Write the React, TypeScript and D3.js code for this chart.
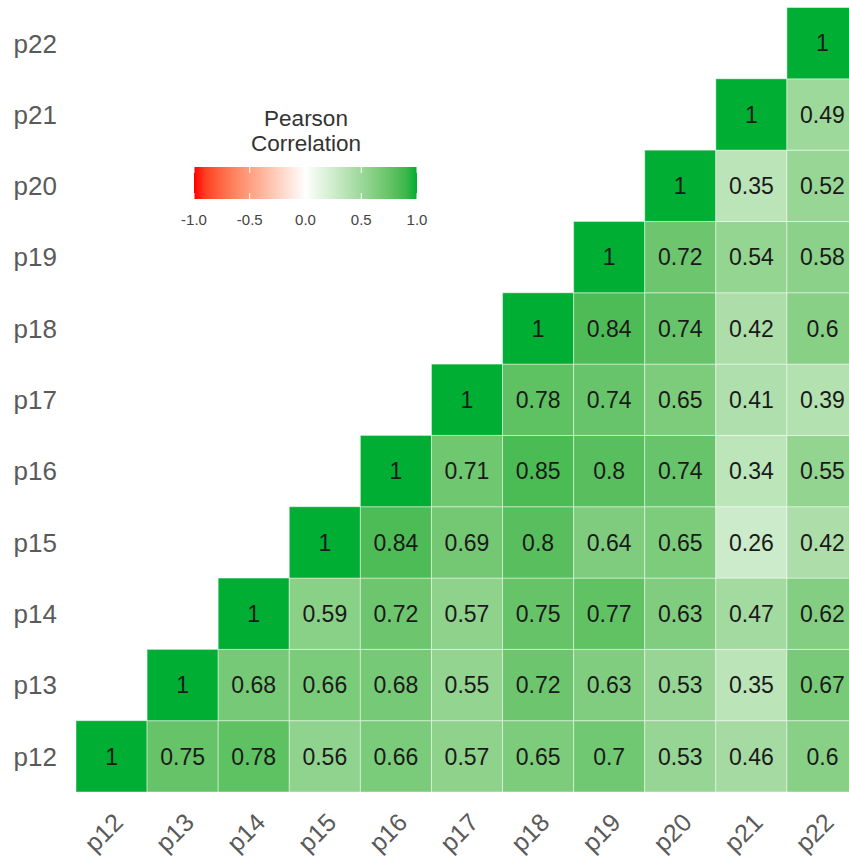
import React from "react";
import * as d3 from "d3";

const vars = ["p12", "p13", "p14", "p15", "p16", "p17", "p18", "p19", "p20", "p21", "p22"];

// upper-triangle correlations; each row starts at its own diagonal
const rowP12 = [1, 0.75, 0.78, 0.56, 0.66, 0.57, 0.65, 0.7, 0.53, 0.46, 0.6];
const rowP13 = [1, 0.68, 0.66, 0.68, 0.55, 0.72, 0.63, 0.53, 0.35, 0.67];
const rowP14 = [1, 0.59, 0.72, 0.57, 0.75, 0.77, 0.63, 0.47, 0.62];
const rowP15 = [1, 0.84, 0.69, 0.8, 0.64, 0.65, 0.26, 0.42];
const rowP16 = [1, 0.71, 0.85, 0.8, 0.74, 0.34, 0.55];
const rowP17 = [1, 0.78, 0.74, 0.65, 0.41, 0.39];
const rowP18 = [1, 0.84, 0.74, 0.42, 0.6];
const rowP19 = [1, 0.72, 0.54, 0.58];
const rowP20 = [1, 0.35, 0.52];
const rowP21 = [1, 0.49];
const rowP22 = [1];
const rows = [rowP12, rowP13, rowP14, rowP15, rowP16, rowP17, rowP18, rowP19, rowP20, rowP21, rowP22];

const legendTicks = [-1, -0.5, 0, 0.5, 1];
const legendTitle = ["Pearson", "Correlation"];

const W = 849;
const H = 862;
const FONT = "'Liberation Sans', Arial, sans-serif";

export default function App() {
  const x = d3.scaleBand<string>().domain(vars).range([76, 858]).padding(0);
  const y = d3.scaleBand<string>().domain([...vars].reverse()).range([7.5, 792]).padding(0);
  const color = d3
    .scaleLinear<string>()
    .domain([-1, 0, 1])
    .range(["#FF0000", "#FFFFFF", "#00AE34"])
    .interpolate(d3.interpolateLab);

  const cells: { r: string; c: string; v: number }[] = [];
  rows.forEach((vals, i) => {
    vals.forEach((v, k) => {
      cells.push({ r: vars[i], c: vars[i + k], v });
    });
  });

  const lx = d3.scaleLinear().domain([-1, 1]).range([194, 417]);
  const gradStops = d3.range(0, 1.0001, 0.05);

  return (
    <svg
      width={W}
      height={H}
      style={{ position: "absolute", left: 0, top: 0, background: "#fff" }}
      fontFamily={FONT}
    >
      <defs>
        <linearGradient id="lg" x1="0" x2="1" y1="0" y2="0">
          {gradStops.map((t) => (
            <stop key={t} offset={t} stopColor={color(-1 + 2 * t)} />
          ))}
        </linearGradient>
      </defs>
      <rect x={0} y={0} width={W} height={H} fill="#fff" />
      {cells.map((d) => (
        <g key={d.r + d.c}>
          <rect
            x={x(d.c)}
            y={y(d.r)}
            width={x.bandwidth()}
            height={y.bandwidth()}
            fill={color(d.v)}
            stroke="#ffffff"
            strokeOpacity={0.45}
            strokeWidth={1}
          />
          <text
            x={(x(d.c) as number) + x.bandwidth() / 2}
            y={(y(d.r) as number) + y.bandwidth() / 2}
            dy="0.36em"
            textAnchor="middle"
            fontSize={23}
            fill="#1a1a1a"
          >
            {String(d.v)}
          </text>
        </g>
      ))}
      {vars.map((v) => (
        <text
          key={"y" + v}
          x={57}
          y={(y(v) as number) + y.bandwidth() / 2}
          dy="0.36em"
          textAnchor="end"
          fontSize={26}
          fill="#5a5a5a"
        >
          {v}
        </text>
      ))}
      {vars.map((v) => {
        const px = (x(v) as number) + x.bandwidth() / 2 + 13;
        const py = 824;
        return (
          <text
            key={"x" + v}
            x={px}
            y={py}
            textAnchor="end"
            fontSize={25}
            fill="#5a5a5a"
            transform={`rotate(-45, ${px}, ${py})`}
          >
            {v}
          </text>
        );
      })}
      {/* legend */}
      {legendTitle.map((t, i) => (
        <text key={t} x={306} y={126 + i * 25} textAnchor="middle" fontSize={22.5} fill="#333">
          {t}
        </text>
      ))}
      <rect x={194} y={167} width={223} height={32} fill="url(#lg)" />
      {legendTicks.map((t) => (
        <g key={"lt" + t}>
          <line x1={lx(t)} x2={lx(t)} y1={167} y2={173} stroke="#fff" strokeWidth={1} />
          <line x1={lx(t)} x2={lx(t)} y1={193} y2={199} stroke="#fff" strokeWidth={1} />
          <text x={lx(t)} y={225} textAnchor="middle" fontSize={15} fill="#444">
            {t.toFixed(1)}
          </text>
        </g>
      ))}
    </svg>
  );
}
